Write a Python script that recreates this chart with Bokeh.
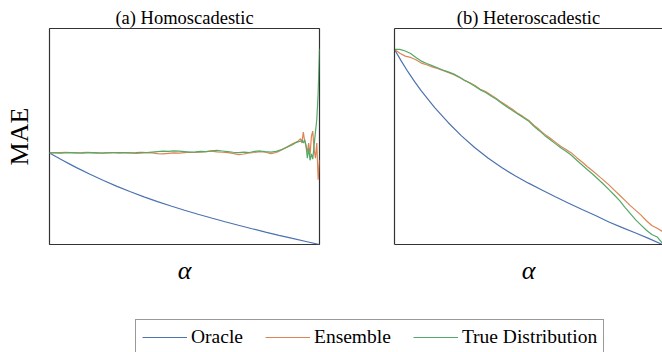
from bokeh.plotting import figure
from bokeh.layouts import column, row
from bokeh.models import LinearAxis, FixedTicker, Legend, LegendItem, Range1d
from bokeh.embed import file_html
from bokeh.resources import INLINE

FONT = "Liberation Serif"
BLUE, ORANGE, GREEN = "#4C72B0", "#DD8452", "#55A868"
FRAME = "#333333"

# ---------------- data (y in arbitrary MAE units) ----------------
alpha_oracle = [0.0, 0.025, 0.05, 0.075, 0.1, 0.15, 0.2, 0.25, 0.3, 0.35, 0.4, 0.45,
                0.5, 0.55, 0.6, 0.65, 0.7, 0.75, 0.8, 0.85, 0.9, 0.95, 1.0]
homo_oracle = [0.424, 0.406, 0.389, 0.372, 0.356, 0.325, 0.296, 0.269, 0.244, 0.2205, 0.1985, 0.178,
               0.1585, 0.140, 0.1225, 0.1055, 0.089, 0.073, 0.0575, 0.0425, 0.028, 0.014, 0.000]
hetero_oracle = [0.903, 0.850, 0.800, 0.754, 0.711, 0.634, 0.565, 0.503, 0.448, 0.399, 0.356, 0.318,
                 0.284, 0.252, 0.221, 0.191, 0.162, 0.134, 0.104, 0.078, 0.053, 0.027, 0.000]

alpha_homo = [0.00, 0.02, 0.04, 0.06, 0.08, 0.10, 0.12, 0.14, 0.16, 0.18, 0.20, 0.22, 0.24, 0.26,
              0.28, 0.30, 0.32, 0.34, 0.36, 0.38, 0.40, 0.42, 0.44, 0.46, 0.48, 0.50, 0.52, 0.54,
              0.56, 0.58, 0.60, 0.62, 0.64, 0.66, 0.68, 0.70, 0.72, 0.74, 0.76, 0.78, 0.80, 0.82,
              0.84, 0.86, 0.88, 0.90, 0.91, 0.92, 0.93, 0.935, 0.94, 0.945, 0.95, 0.955, 0.96,
              0.965, 0.97, 0.975, 0.98, 0.985, 0.99, 0.995, 1.00]
homo_ensemble = [0.424, 0.426, 0.425, 0.427, 0.426, 0.424, 0.425, 0.427, 0.425, 0.423, 0.424, 0.426,
                 0.425, 0.423, 0.425, 0.424, 0.422, 0.423, 0.425, 0.424, 0.421, 0.420, 0.422, 0.424,
                 0.423, 0.425, 0.427, 0.426, 0.428, 0.430, 0.432, 0.429, 0.427, 0.425, 0.422, 0.416,
                 0.419, 0.424, 0.426, 0.430, 0.427, 0.421, 0.426, 0.438, 0.452, 0.466, 0.472, 0.478,
                 0.490, 0.470, 0.520, 0.480, 0.455, 0.430, 0.470, 0.415, 0.500, 0.525, 0.440, 0.400,
                 0.470, 0.300, 0.390]
homo_true = [0.424, 0.424, 0.423, 0.424, 0.425, 0.424, 0.423, 0.424, 0.425, 0.424, 0.423, 0.424,
             0.425, 0.426, 0.425, 0.424, 0.425, 0.427, 0.426, 0.428, 0.430, 0.432, 0.431, 0.433,
             0.432, 0.430, 0.428, 0.429, 0.431, 0.430, 0.434, 0.436, 0.433, 0.430, 0.427, 0.425,
             0.428, 0.426, 0.431, 0.433, 0.430, 0.428, 0.431, 0.440, 0.450, 0.462, 0.470, 0.475,
             0.478, 0.483, 0.470, 0.485, 0.460, 0.400, 0.445, 0.390, 0.420, 0.395, 0.460, 0.520,
             0.580, 0.700, 0.906]

alpha_hetero = [0.00, 0.02, 0.04, 0.06, 0.08, 0.10, 0.12, 0.14, 0.16, 0.18, 0.20, 0.22, 0.24, 0.26,
                0.28, 0.30, 0.32, 0.34, 0.36, 0.38, 0.40, 0.42, 0.44, 0.46, 0.48, 0.50, 0.52, 0.54,
                0.56, 0.58, 0.60, 0.62, 0.64, 0.66, 0.68, 0.70, 0.72, 0.74, 0.76, 0.78, 0.80, 0.82,
                0.84, 0.86, 0.88, 0.90, 0.92, 0.94, 0.96, 0.98, 1.00]
hetero_ensemble = [0.903, 0.885, 0.872, 0.866, 0.855, 0.840, 0.832, 0.822, 0.815, 0.806, 0.797, 0.787,
                   0.775, 0.760, 0.750, 0.736, 0.719, 0.708, 0.692, 0.676, 0.658, 0.642, 0.626, 0.607,
                   0.592, 0.575, 0.552, 0.532, 0.511, 0.493, 0.474, 0.455, 0.440, 0.424, 0.402, 0.382,
                   0.360, 0.340, 0.319, 0.298, 0.276, 0.252, 0.228, 0.204, 0.180, 0.158, 0.136, 0.110,
                   0.088, 0.075, 0.060]
hetero_true = [0.903, 0.903, 0.896, 0.884, 0.866, 0.849, 0.838, 0.828, 0.818, 0.808, 0.799, 0.790,
               0.777, 0.762, 0.748, 0.733, 0.716, 0.704, 0.688, 0.672, 0.654, 0.637, 0.620, 0.604,
               0.588, 0.572, 0.547, 0.527, 0.505, 0.486, 0.467, 0.448, 0.432, 0.413, 0.390, 0.368,
               0.346, 0.325, 0.302, 0.279, 0.254, 0.229, 0.203, 0.172, 0.143, 0.114, 0.090, 0.066,
               0.046, 0.035, 0.005]

panel_titles = ["(a) Homoscadestic", "(b) Heteroscadestic"]
series_labels = ["Oracle", "Ensemble", "True Distribution"]
x_label = "α"
y_label = "MAE"


def no_tick_axis(**kw):
    ax = LinearAxis(ticker=FixedTicker(ticks=[]), major_tick_in=0, major_tick_out=0,
                    minor_tick_in=0, minor_tick_out=0, major_label_standoff=0, **kw)
    return ax


def make_panel(title, width, left, right, first):
    p = figure(width=width, height=300, x_range=Range1d(0, 1), y_range=Range1d(0, 1),
               output_backend="svg", toolbar_location=None,
               x_axis_location=None, y_axis_location=None,
               min_border_left=left, min_border_right=right,
               min_border_top=28, min_border_bottom=56, title=title)
    p.grid.visible = False
    p.title.text_font = FONT
    p.title.text_font_size = "18.5px"
    p.title.text_font_style = "normal"
    p.title.text_color = "black"
    p.title.align = "center"
    p.title.standoff = 2
    p.background_fill_color = "white"
    p.border_fill_color = "white"
    xa = no_tick_axis(axis_label=x_label, axis_label_text_font=FONT,
                      axis_label_text_font_size="26px", axis_label_text_font_style="italic",
                      axis_label_standoff=11, axis_label_text_color="black")
    if first:
        p.outline_line_color = FRAME
        p.outline_line_width = 1.2
        xa.axis_line_color = None
        ya = no_tick_axis(axis_label=y_label, axis_label_text_font=FONT,
                          axis_label_text_font_size="26px", axis_label_text_font_style="normal",
                          axis_label_standoff=16, axis_label_text_color="black",
                          axis_line_color=None)
        p.add_layout(ya, "left")
    else:
        p.outline_line_color = None
        xa.axis_line_color = FRAME
        xa.axis_line_width = 1.2
        ya = no_tick_axis(axis_line_color=FRAME, axis_line_width=1.2)
        p.add_layout(ya, "left")
        ta = no_tick_axis(axis_line_color=FRAME, axis_line_width=1.2)
        p.add_layout(ta, "above")
    p.add_layout(xa, "below")
    return p


p1 = make_panel(panel_titles[0], 330, 49, 11, True)
p1.line(alpha_oracle, homo_oracle, color=BLUE, line_width=1.2)
p1.line(alpha_homo, homo_ensemble, color=ORANGE, line_width=1.2)
p1.line(alpha_homo, homo_true, color=GREEN, line_width=1.2)

p2 = make_panel(panel_titles[1], 332, 64, 0, False)
p2.line(alpha_oracle, hetero_oracle, color=BLUE, line_width=1.2)
p2.line(alpha_hetero, hetero_ensemble, color=ORANGE, line_width=1.2)
p2.line(alpha_hetero, hetero_true, color=GREEN, line_width=1.2)

# legend strip: its renderers carry the same series, but its ranges keep them out of view
p3 = figure(width=662, height=52, x_range=Range1d(5, 6), y_range=Range1d(5, 6),
            output_backend="svg", toolbar_location=None,
            x_axis_location=None, y_axis_location=None, min_border=0)
p3.outline_line_color = None
p3.grid.visible = False
r_o = p3.line(alpha_oracle, homo_oracle, color=BLUE, line_width=1.2)
r_e = p3.line(alpha_homo, homo_ensemble, color=ORANGE, line_width=1.2)
r_t = p3.line(alpha_homo, homo_true, color=GREEN, line_width=1.2)
legend = Legend(items=[LegendItem(label=series_labels[0], renderers=[r_o]),
                       LegendItem(label=series_labels[1], renderers=[r_e]),
                       LegendItem(label=series_labels[2], renderers=[r_t])],
                orientation="horizontal", location=(135, -3),
                label_text_font=FONT, label_text_font_size="19.5px", label_text_color="black",
                glyph_width=45, glyph_height=20, label_standoff=4, spacing=22,
                padding=6, margin=0, border_line_color=FRAME, border_line_width=1.2,
                background_fill_color="white", background_fill_alpha=1.0)
p3.add_layout(legend)

layout = column(row(p1, p2), p3)

open("out.html", "w").write(file_html(layout, INLINE))
